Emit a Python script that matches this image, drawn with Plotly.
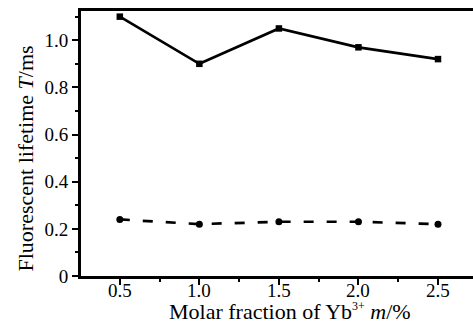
import plotly.graph_objects as go

x_vals = [0.5, 1.0, 1.5, 2.0, 2.5]
solid_vals = [1.10, 0.90, 1.05, 0.97, 0.92]
dashed_vals = [0.24, 0.22, 0.23, 0.23, 0.22]
y_tickvals = [0, 0.2, 0.4, 0.6, 0.8, 1.0]
y_ticktext = ["0", "0.2", "0.4", "0.6", "0.8", "1.0"]
x_tickvals = [0.5, 1.0, 1.5, 2.0, 2.5]
x_ticktext = ["0.5", "1.0", "1.5", "2.0", "2.5"]

FONT = "Liberation Serif"
tf = dict(family=FONT, size=19, color="black")
titlef = dict(family=FONT, size=22, color="black")

fig = go.Figure()
fig.add_trace(go.Scatter(x=x_vals, y=solid_vals, mode="lines+markers",
                         line=dict(color="black", width=2.7),
                         marker=dict(symbol="square", size=6.5, color="black"),
                         showlegend=False))
fig.add_trace(go.Scatter(x=x_vals, y=dashed_vals, mode="lines+markers",
                         line=dict(color="black", width=2.7, dash="10px,13px"),
                         marker=dict(symbol="circle", size=7, color="black"),
                         showlegend=False))

annotations = []
for v, t in zip(x_tickvals, x_ticktext):
    annotations.append(dict(text=t, x=v, xref="x", y=0, yref="paper",
                            xanchor="center", yanchor="middle", yshift=-14,
                            showarrow=False, font=tf))
annotations += [
    dict(text="Molar fraction of Yb<sup><span style=\"font-size:12px\">3+</span></sup> <i>m</i>/%",
         xref="paper", yref="paper", x=0.5, y=0, xanchor="center", yanchor="middle",
         xshift=13, yshift=-35, showarrow=False, font=titlef),
    dict(text="Fluorescent lifetime <i>T</i>/ms", textangle=-90,
         xref="paper", yref="paper", x=0, y=0.5, xanchor="center", yanchor="middle",
         xshift=-56, yshift=-15, showarrow=False, font=titlef),
]

fig.update_layout(
    width=473, height=325,
    margin=dict(l=81, r=0, t=11, b=49),
    plot_bgcolor="white", paper_bgcolor="white",
    font=tf,
    xaxis=dict(range=[0.256, 2.72], tickvals=x_tickvals, showticklabels=False,
               showline=True, linecolor="black", linewidth=2.8, mirror=True,
               ticks="outside", ticklen=6, tickwidth=2.2, tickcolor="black",
               minor=dict(tickvals=[0.75, 1.25, 1.75, 2.25], ticks="outside",
                          ticklen=3, tickwidth=2, tickcolor="black"),
               showgrid=False, zeroline=False),
    yaxis=dict(range=[0, 1.124], tickvals=y_tickvals, ticktext=y_ticktext,
               showline=True, linecolor="black", linewidth=2.8,
               ticks="outside", ticklen=6, tickwidth=2.2, tickcolor="black",
               minor=dict(tickvals=[0.1, 0.3, 0.5, 0.7, 0.9, 1.1], ticks="outside",
                          ticklen=3, tickwidth=2, tickcolor="black"),
               showgrid=False, zeroline=False,
               tickfont=tf),
    annotations=annotations,
)

fig.write_html("out.html")
